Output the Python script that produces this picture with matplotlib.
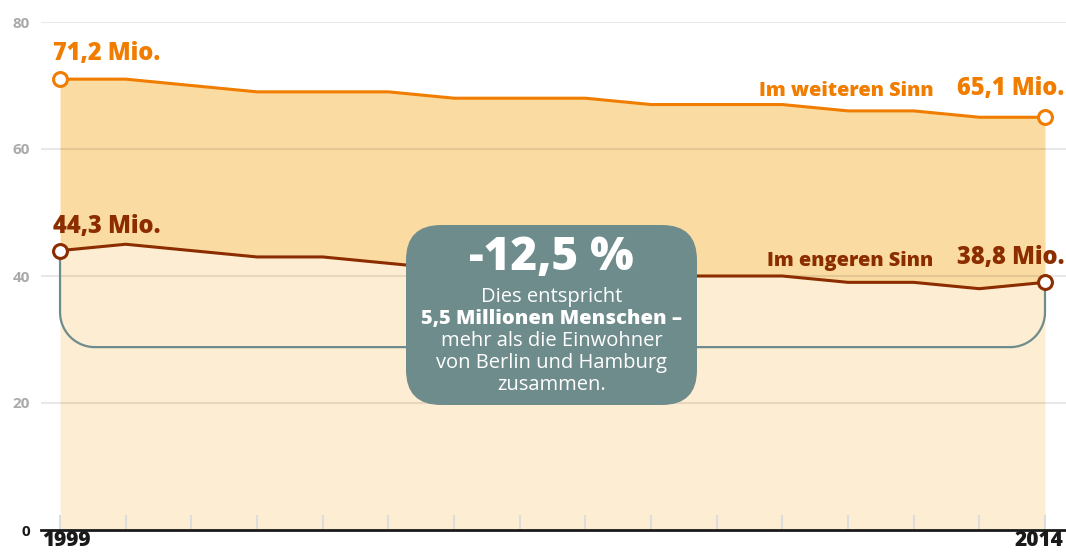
import numpy as np
import matplotlib as mpl
mpl.use('agg')
import matplotlib.pyplot as plt
import matplotlib.transforms as mtrans
from matplotlib.patches import FancyBboxPatch

# data (Mio. Menschen)
years = list(range(1999, 2015))
weiter = [71, 71, 70, 69, 69, 69, 68, 68, 68, 67, 67, 67, 66, 66, 65, 65]
enger = [44, 45, 44, 43, 43, 42, 41, 41, 40, 40, 40, 40, 39, 39, 38, 39]
yticks = [0, 20, 40, 60, 80]
xlabels = {1999: '1999', 2014: '2014'}

ORANGE = '#F07D00'
DARK = '#8C2D00'
FILL_UP = '#FADCA2'
FILL_LOW = '#FDEDD3'
TEAL = '#6F8C8C'

plt.rcParams['font.family'] = ['Open Sans', 'DejaVu Sans']

fig = plt.figure(figsize=(10.66, 5.57), dpi=100)
ax = fig.add_axes([41 / 1066, 27 / 557, 1 - 41 / 1066, (535 - 27) / 557])

ax.fill_between(years, enger, weiter, color=FILL_UP, lw=0, zorder=1)
ax.fill_between(years, 0, enger, color=FILL_LOW, lw=0, zorder=1)

# grid
for y in yticks[1:]:
    ax.axhline(y, color='#000000', alpha=0.09, lw=1.5, zorder=2)

# bracket from first to last point of the narrower series
x0, x1 = years[0], years[-1]
ybot = 28.8
rx, ry = 0.53, 5.5
t = np.linspace(0, np.pi / 2, 30)
left_arc_x = x0 + rx - rx * np.cos(t)
left_arc_y = ybot + ry - ry * np.sin(t)
right_arc_x = x1 - rx + rx * np.sin(t)
right_arc_y = ybot + ry - ry * np.cos(t)
bx = np.concatenate([[x0], left_arc_x, right_arc_x, [x1]])
by = np.concatenate([[enger[0]], left_arc_y, right_arc_y, [enger[-1]]])
ax.plot(bx, by, color=TEAL, lw=1.6, zorder=3)

ax.plot(years, weiter, color=ORANGE, lw=2.2, zorder=4)
ax.plot(years, enger, color=DARK, lw=2.2, zorder=4)
ax.plot([years[0], years[-1]], [weiter[0], weiter[-1]], 'o', ms=10,
        mfc='white', mec=ORANGE, mew=2.2, zorder=5)
ax.plot([years[0], years[-1]], [enger[0], enger[-1]], 'o', ms=10,
        mfc='white', mec=DARK, mew=2.2, zorder=5)

ax.set_xlim(1998.71, 2014.32)
ax.set_ylim(0, 80)

ax.set_xticks(years)
ax.set_xticklabels([xlabels.get(y, '') for y in years], fontsize=15,
                   fontweight='heavy', color='#1a1a1a')
ax.tick_params(axis='x', direction='in', length=11, width=1.5,
               color='#DDDDDD', pad=0)
# nudge the end labels like in the original
lbls = ax.get_xticklabels()
lbls[0].set_transform(lbls[0].get_transform() +
                      mtrans.ScaledTranslation(6 / 100, 0, fig.dpi_scale_trans))
lbls[-1].set_ha('right')
lbls[-1].set_transform(lbls[-1].get_transform() +
                       mtrans.ScaledTranslation(18 / 100, 0, fig.dpi_scale_trans))
ax.set_yticks(yticks)
ax.set_yticklabels([str(v) for v in yticks], fontsize=11, fontweight='bold',
                   color='#AAAAAA')
ax.get_yticklabels()[0].set_color('#1a1a1a')
ax.tick_params(axis='y', length=0, pad=8)
for s in ['top', 'right', 'left']:
    ax.spines[s].set_visible(False)
ax.spines['bottom'].set_color('#1a1a1a')
ax.spines['bottom'].set_linewidth(2)
ax.spines['bottom'].set_zorder(6)

# labels
big = dict(fontsize=17, fontweight='heavy', va='bottom')
small = dict(fontsize=14.3, fontweight='heavy', va='bottom', ha='right')
ax.text(years[0] - 0.1, weiter[0] + 2.0, '71,2 Mio.', color=ORANGE,
        ha='left', **big)
ax.text(years[0] - 0.1, enger[0] + 1.8, '44,3 Mio.', color=DARK,
        ha='left', **big)
ax.text(years[-1] + 0.29, weiter[-1] + 2.6, '65,1 Mio.', color=ORANGE,
        ha='right', **big)
ax.text(2012.3, weiter[-1] + 2.5, 'Im weiteren Sinn', color=ORANGE, **small)
ax.text(years[-1] + 0.29, enger[-1] + 1.9, '38,8 Mio.', color=DARK,
        ha='right', **big)
ax.text(2012.3, enger[-1] + 1.8, 'Im engeren Sinn', color=DARK, **small)

# info box
bw, bh = 291 / 1066, 180 / 557
bx0, by0 = 406 / 1066, (557 - 405) / 557
box = FancyBboxPatch((bx0, by0), bw, bh,
                     boxstyle='round,pad=0,rounding_size=%f' % (35 / 1066),
                     mutation_aspect=1066 / 557, transform=fig.transFigure,
                     fc=TEAL, ec='none', zorder=10)
fig.patches.append(box)
cx = bx0 + bw / 2
fig.text(cx, 1 - 258 / 557, '-12,5 %', color='white', fontsize=33,
         fontweight='heavy', ha='center', va='center', zorder=11)
lines = [('Dies entspricht', 'normal'),
         ('5,5 Millionen Menschen \u2013', 'heavy'),
         ('mehr als die Einwohner', 'normal'),
         ('von Berlin und Hamburg', 'normal'),
         ('zusammen.', 'normal')]
for i, (s, w) in enumerate(lines):
    fig.text(cx, 1 - (297 + 22 * i) / 557, s, color='white', fontsize=14.5,
             fontweight=w, ha='center', va='center', zorder=11)

plt.savefig('out.png', dpi=100)
plt.close()
